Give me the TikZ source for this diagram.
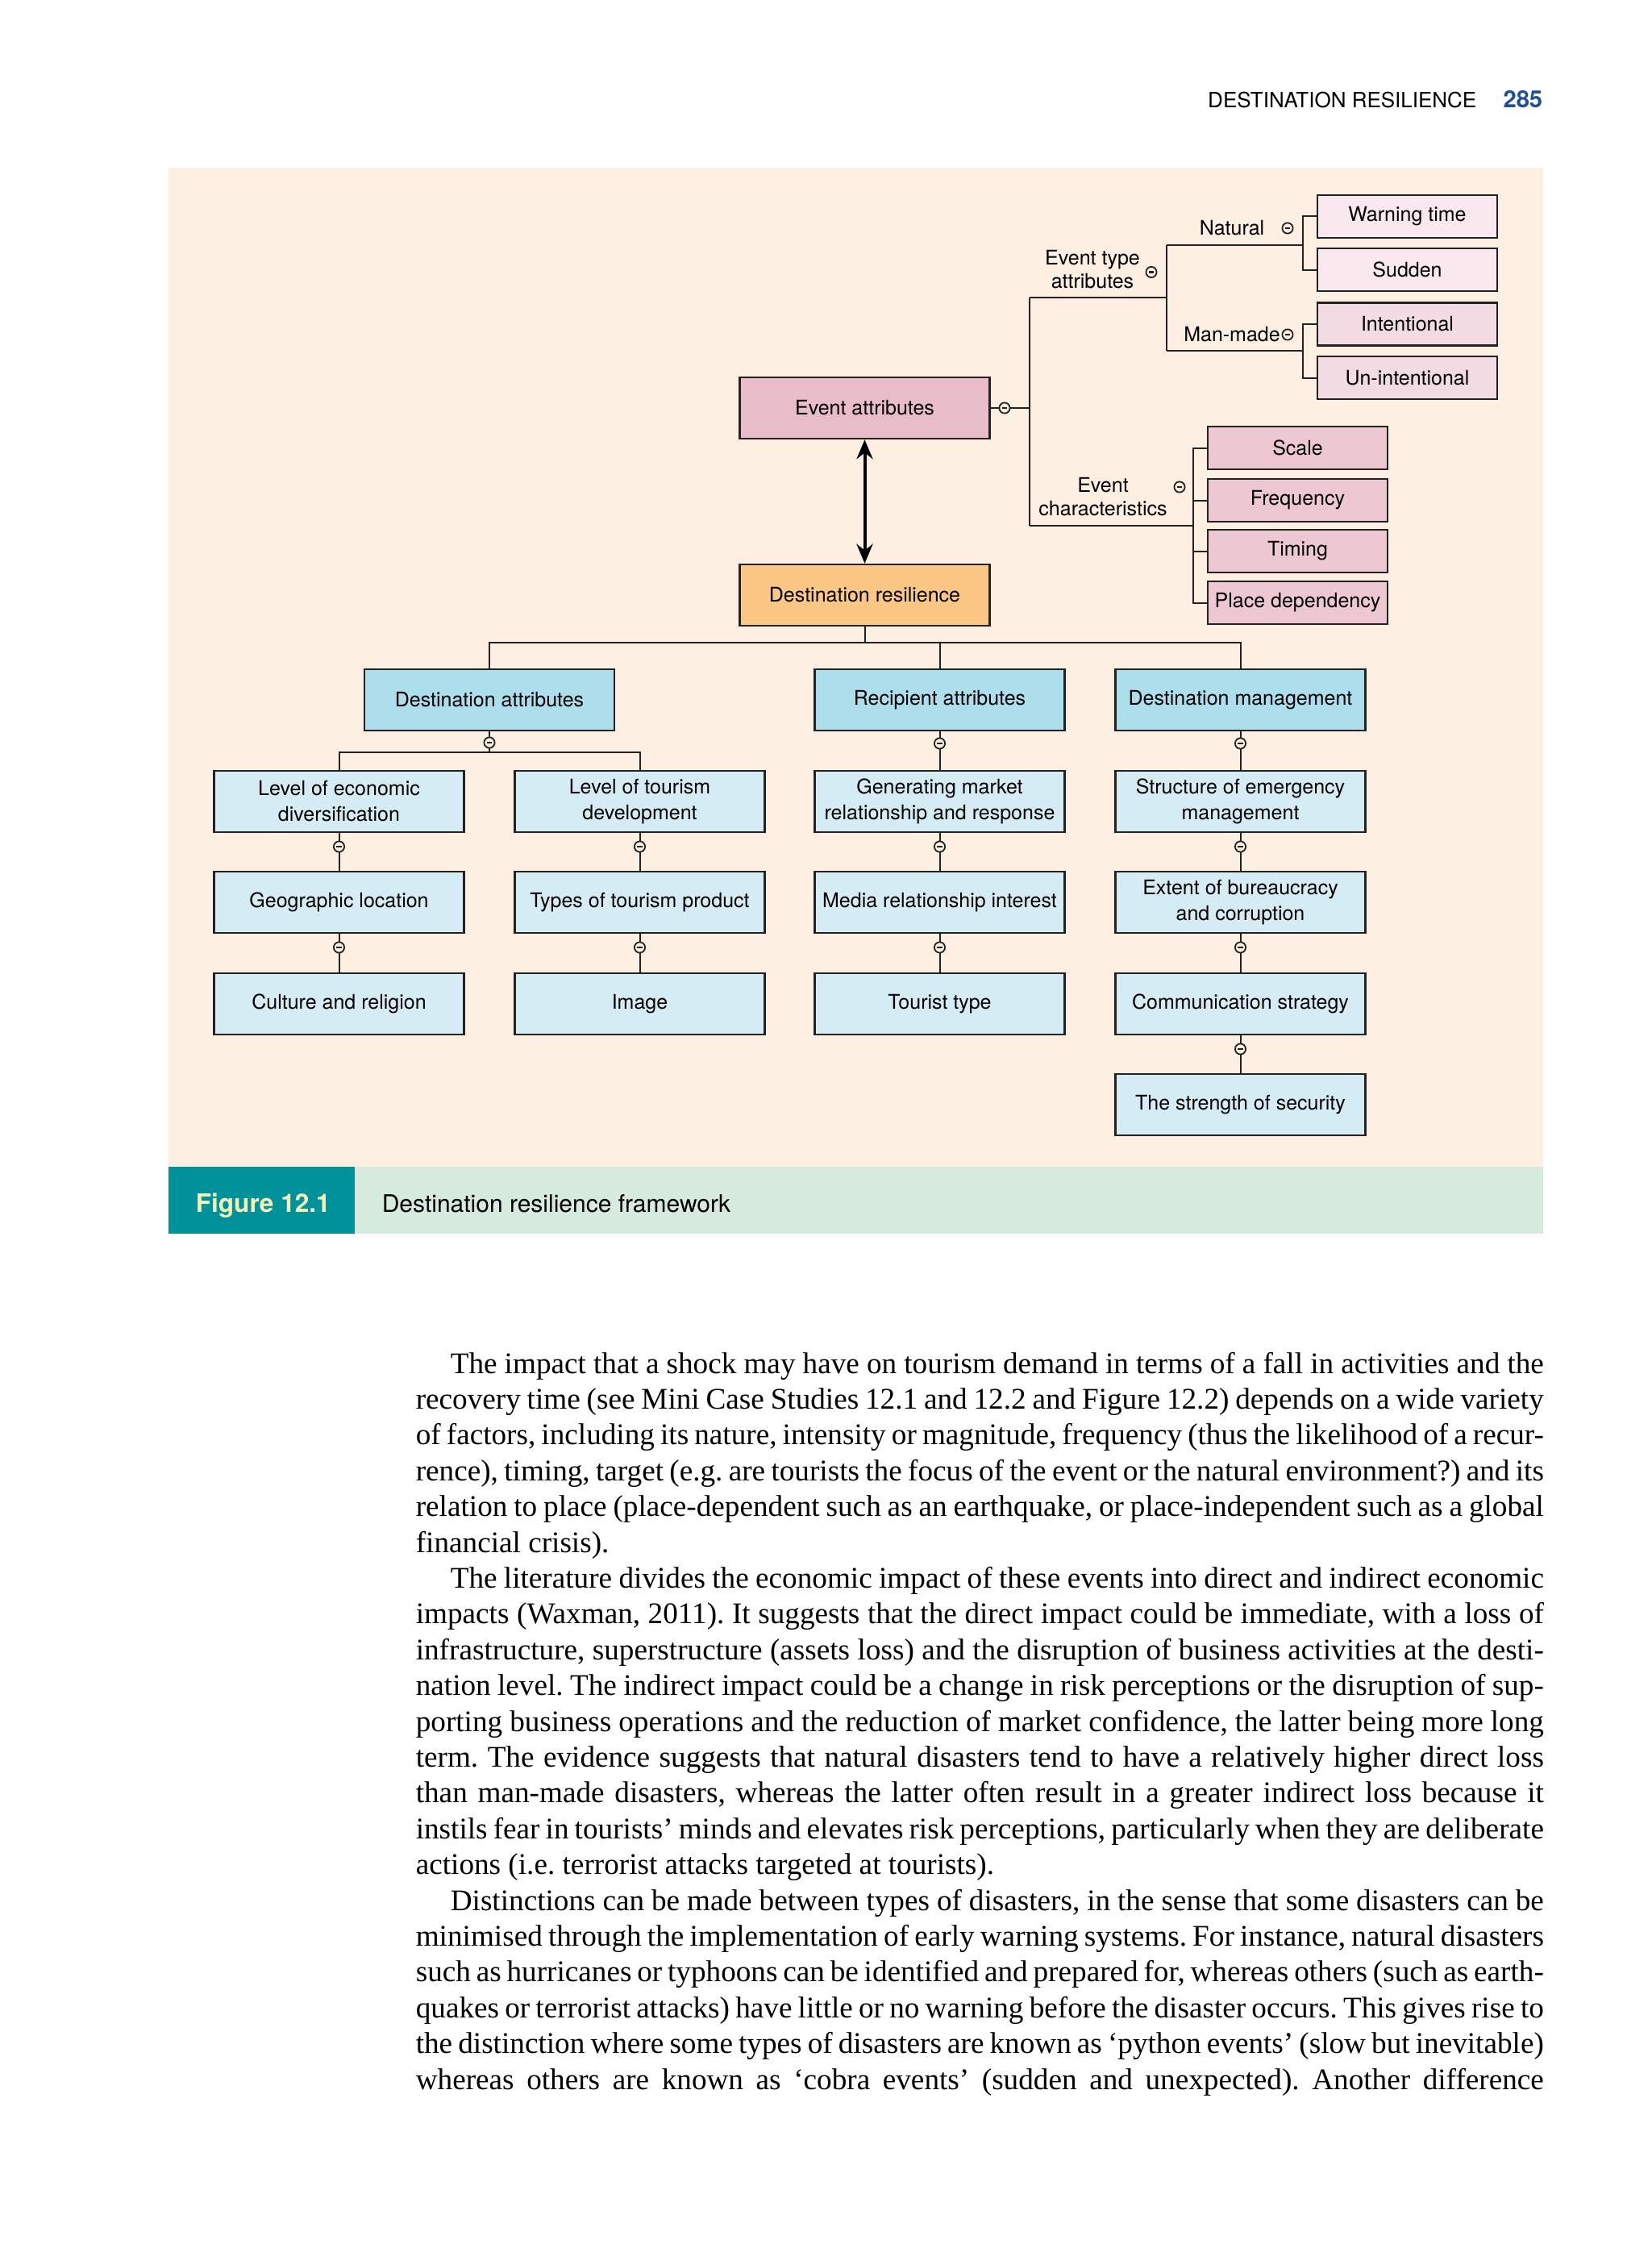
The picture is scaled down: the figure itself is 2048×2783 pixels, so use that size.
\documentclass[tikz,border=0pt]{standalone}
\usepackage{fontspec}
\setmainfont{Liberation Serif}
\newfontfamily\hel{TeX Gyre Heros}
\usetikzlibrary{arrows.meta}
\definecolor{bgpeach}{HTML}{FDF0E3}
\definecolor{evpink}{HTML}{E9BCC9}
\definecolor{drorange}{HTML}{FBC784}
\definecolor{pinkA}{HTML}{F9E8EE}
\definecolor{pinkB}{HTML}{F3DBE3}
\definecolor{pinkC}{HTML}{EDC8D3}
\definecolor{blueA}{HTML}{ADDEEC}
\definecolor{blueB}{HTML}{D6ECF4}
\definecolor{capteal}{HTML}{00929A}
\definecolor{capgreen}{HTML}{D6EBDD}
\definecolor{capyellow}{HTML}{F4F2B8}
\definecolor{pagenum}{HTML}{1F4E9C}
\definecolor{edge}{HTML}{222222}
\frenchspacing
\newcommand\jline[3]{\node[bodyl] (#1) at (515,#2) {\makebox[349.75pt][s]{#3}};}
\newcommand\iline[3]{\node[bodyl] (#1) at (558,#2) {\makebox[339pt][s]{#3}};}
\newcommand\eline[3]{\node[bodyl] (#1) at (515,#2) {#3};}
\begin{document}
\begin{tikzpicture}[x=0.25pt,y=-0.25pt,
  bodyl/.style={anchor=base west, inner sep=0pt, font=\fontsize{9.3}{11}\selectfont},
  fbox/.style={draw=edge, line width=0.6pt, inner sep=0pt, align=center,
     minimum width=77.5pt, minimum height=19pt,
     font=\hel\fontsize{6.25}{8}\selectfont},
  sbox/.style={fbox, minimum width=55.75pt, minimum height=13.2pt},
  lbl/.style={inner sep=0pt, align=center, font=\hel\fontsize{6.25}{7}\selectfont},
  conn/.style={draw=edge, line width=0.5pt},
  omark/.style={circle, draw=edge, line width=0.45pt, fill=bgpeach, minimum size=3.3pt, inner sep=0pt,
     path picture={\fill[edge] ([xshift=-0.85pt,yshift=-0.3pt]path picture bounding box.center) rectangle ([xshift=0.85pt,yshift=0.3pt]path picture bounding box.center);}}
]
\useasboundingbox (0,0) rectangle (2048,2783);
\fill[white] (0,0) rectangle (2048,2783);

% header
\node[anchor=base east, inner sep=0pt, font=\hel\fontsize{6.5}{8}\selectfont] (hdr) at (1832,134) {DESTINATION RESILIENCE};
\node[anchor=base east, inner sep=0pt, font=\hel\bfseries\fontsize{7.3}{8}\selectfont, text=pagenum] (pg) at (1914,134) {285};

% figure panel
\fill[bgpeach] (208.5,208.5) rectangle (1913.7,1447);
\fill[capgreen] (208.5,1447) rectangle (1913.7,1530);
\fill[capteal] (208.5,1447) rectangle (440,1530);
\node[anchor=base west, inner sep=0pt, font=\hel\bfseries\fontsize{7.9}{9}\selectfont, text=capyellow] (fig) at (242,1503) {Figure 12.1};
\node[anchor=base west, inner sep=0pt, font=\hel\fontsize{7.5}{9}\selectfont] (cap) at (473,1503) {Destination resilience framework};

% central boxes
\node[fbox, fill=evpink] (ea) at (1072.5,506) {Event attributes};
\node[fbox, fill=drorange] (dr) at (1072.5,738) {Destination resilience};

% event type boxes
\node[sbox, fill=pinkA] (wt) at (1745.5,268.5) {Warning time};
\node[sbox, fill=pinkA] (sd) at (1745.5,334.5) {Sudden};
\node[sbox, fill=pinkB] (it) at (1745.5,402) {Intentional};
\node[sbox, fill=pinkB] (ui) at (1745.5,468.5) {Un-intentional};
% characteristics boxes
\node[sbox, fill=pinkC] (sc) at (1609.5,555.5) {Scale};
\node[sbox, fill=pinkC] (fr) at (1609.5,620.5) {Frequency};
\node[sbox, fill=pinkC] (tm) at (1609.5,683.5) {Timing};
\node[sbox, fill=pinkC] (pd) at (1609.5,747.5) {Place dependency};

% labels
\node[lbl] (etl) at (1355,334) {Event type\\[0.2pt]attributes};
\node[lbl] (nat) at (1528,283) {Natural};
\node[lbl] (mm) at (1528,415) {Man-made};
\node[lbl] (ecl) at (1368,616) {Event\\[0.2pt]characteristics};

% lower tree
\node[fbox, fill=blueA] (da) at (607,868) {Destination attributes};
\node[fbox, fill=blueA] (ra) at (1165.5,868) {Recipient attributes};
\node[fbox, fill=blueA] (dm) at (1538.5,868) {Destination management};

\node[fbox, fill=blueB] (a1) at (420.5,994) {Level of economic\\diversification};
\node[fbox, fill=blueB] (a2) at (420.5,1119) {Geographic location};
\node[fbox, fill=blueB] (a3) at (420.5,1245) {Culture and religion};
\node[fbox, fill=blueB] (b1) at (793.5,994) {Level of tourism\\development};
\node[fbox, fill=blueB] (b2) at (793.5,1119) {Types of tourism product};
\node[fbox, fill=blueB] (b3) at (793.5,1245) {Image};
\node[fbox, fill=blueB] (c1) at (1165.5,994) {Generating market\\relationship and response};
\node[fbox, fill=blueB] (c2) at (1165.5,1119) {Media relationship interest};
\node[fbox, fill=blueB] (c3) at (1165.5,1245) {Tourist type};
\node[fbox, fill=blueB] (d1) at (1538.5,994) {Structure of emergency\\management};
\node[fbox, fill=blueB] (d2) at (1538.5,1119) {Extent of bureaucracy\\and corruption};
\node[fbox, fill=blueB] (d3) at (1538.5,1245) {Communication strategy};
\node[fbox, fill=blueB] (d4) at (1538.5,1370) {The strength of security};

% connectors top right
\coordinate (j1) at (1277,506);
\coordinate (jt) at (1277,369);
\coordinate (jb) at (1277,652);
\coordinate (jn) at (1447,304);
\coordinate (jm) at (1447,435);
\coordinate (jc) at (1481,652);
\draw[conn] (ea.east) -- (j1);
\draw[conn] (jt) -- (jb);
\draw[conn] (jt) -- (1447,369);
\draw[conn] (jn) -- (jm);
\draw[conn] (jn) -- (1617,304);
\draw[conn] (jm) -- (1617,435);
\draw[conn] (wt.west) -- ++(-17,0) |- (sd.west);
\draw[conn] (it.west) -- ++(-17,0) |- (ui.west);
\draw[conn] (jb) -- (jc);
\draw[conn] (sc.west) -- ++(-17,0) |- (pd.west);
\draw[conn] (fr.west) -- ++(-17,0);
\draw[conn] (tm.west) -- ++(-17,0);

% arrow
\draw[draw=black, line width=1pt, {Stealth[length=6pt,width=5pt]}-{Stealth[length=6pt,width=5pt]}] (ea.south) -- (dr.north);

% lower connectors
\coordinate (jr) at (1072.5,797);
\draw[conn] (dr.south) -- (jr);
\draw[conn] (da.north) |- (jr);
\draw[conn] (jr) -| (dm.north);
\draw[conn] (ra.north) -- (1165.5,797);
\coordinate (jd) at (607,933);
\draw[conn] (da.south) -- (jd);
\draw[conn] (a1.north) |- (jd) -| (b1.north);
\draw[conn] (a1.south) -- (a2.north);
\draw[conn] (a2.south) -- (a3.north);
\draw[conn] (b1.south) -- (b2.north);
\draw[conn] (b2.south) -- (b3.north);
\draw[conn] (ra.south) -- (c1.north);
\draw[conn] (c1.south) -- (c2.north);
\draw[conn] (c2.south) -- (c3.north);
\draw[conn] (dm.south) -- (d1.north);
\draw[conn] (d1.south) -- (d2.north);
\draw[conn] (d2.south) -- (d3.north);
\draw[conn] (d3.south) -- (d4.north);

% circle marks
\node[omark] (m0) at (1246,506) {};
\node[omark] (m1) at (1428,337.5) {};
\node[omark] (m2) at (1597,283) {};
\node[omark] (m3) at (1597,415) {};
\node[omark] (m4) at (1463,604) {};
\node[omark] (m5) at (607,921) {};
\foreach \x/\n in {420.5/a,793.5/b,1165.5/c,1538.5/d}{
  \node[omark] (\n m1) at (\x,1050) {};
  \node[omark] (\n m2) at (\x,1175) {};
}
\node[omark] (cm0) at (1165.5,922) {};
\node[omark] (dm0) at (1538.5,922) {};
\node[omark] (dm3) at (1538.5,1301) {};

% body text
\iline{L0}{1703}{The impact that a shock may have on tourism demand in terms of a fall in activities and the}
\jline{L1}{1747.4}{recovery time (see Mini Case Studies 12.1 and 12.2 and Figure 12.2) depends on a wide variety}
\jline{L2}{1791.8}{of factors, including its nature, intensity or magnitude, frequency (thus the likelihood of a recur-}
\jline{L3}{1836.2}{rence), timing, target (e.g. are tourists the focus of the event or the natural environment?) and its}
\jline{L4}{1880.6}{relation to place (place-dependent such as an earthquake, or place-independent such as a global}
\eline{L5}{1925}{financial crisis).}
\iline{L6}{1969.4}{The literature divides the economic impact of these events into direct and indirect economic}
\jline{L7}{2013.8}{impacts (Waxman, 2011). It suggests that the direct impact could be immediate, with a loss of}
\jline{L8}{2058.2}{infrastructure, superstructure (assets loss) and the disruption of business activities at the desti-}
\jline{L9}{2102.6}{nation level. The indirect impact could be a change in risk perceptions or the disruption of sup-}
\jline{L10}{2147}{porting business operations and the reduction of market confidence, the latter being more long}
\jline{L11}{2191.4}{term. The evidence suggests that natural disasters tend to have a relatively higher direct loss}
\jline{L12}{2235.8}{than man-made disasters, whereas the latter often result in a greater indirect loss because it}
\jline{L13}{2280.2}{instils fear in tourists’ minds and elevates risk perceptions, particularly when they are deliberate}
\eline{L14}{2324.6}{actions (i.e. terrorist attacks targeted at tourists).}
\iline{L15}{2369}{Distinctions can be made between types of disasters, in the sense that some disasters can be}
\jline{L16}{2413.4}{minimised through the implementation of early warning systems. For instance, natural disasters}
\jline{L17}{2457.8}{such as hurricanes or typhoons can be identified and prepared for, whereas others (such as earth-}
\jline{L18}{2502.2}{quakes or terrorist attacks) have little or no warning before the disaster occurs. This gives rise to}
\jline{L19}{2546.6}{the distinction where some types of disasters are known as ‘python events’ (slow but inevitable)}
\jline{L20}{2591}{whereas others are known as ‘cobra events’ (sudden and unexpected). Another difference}
\end{tikzpicture}
\end{document}
